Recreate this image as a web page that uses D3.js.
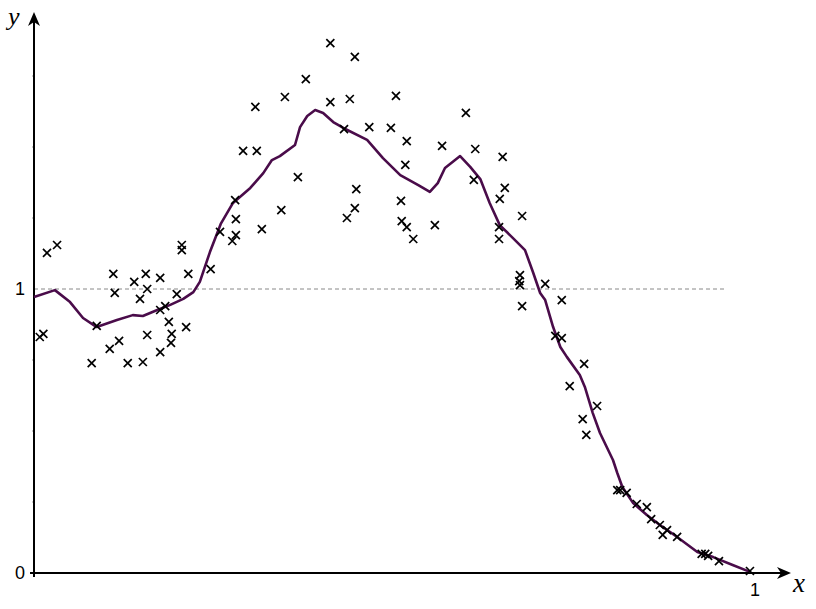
<!DOCTYPE html>
<html><head><meta charset="utf-8">
<script src="https://cdn.jsdelivr.net/npm/d3@7"></script>
<style>body{margin:0;background:#fff}svg{display:block}</style>
</head><body>
<script>
// Scatter observations (x, y)
const pointX = [0.008,0.013,0.018,0.032,0.080,0.087,0.105,0.118,0.110,0.112,0.130,0.151,0.139,0.147,0.157,0.155,0.157,0.175,0.175,0.175,0.182,0.187,0.191,0.190,0.198,0.205,0.205,0.211,0.214,0.245,0.258,0.275,0.279,0.280,0.280,0.290,0.309,0.307,0.316,0.343,0.348,0.366,0.377,0.411,0.411,0.430,0.434,0.438,0.445,0.445,0.447,0.465,0.495,0.502,0.509,0.510,0.515,0.517,0.517,0.526,0.556,0.566,0.599,0.610,0.612,0.645,0.645,0.646,0.650,0.653,0.677,0.674,0.673,0.674,0.709,0.732,0.677,0.723,0.732,0.763,0.743,0.781,0.761,0.766,0.809,0.813,0.822,0.836,0.850,0.856,0.868,0.878,0.872,0.892,0.926,0.931,0.935,0.950,0.993];
const pointY = [0.831,0.842,1.127,1.155,0.739,0.870,0.789,0.817,1.053,0.986,0.739,0.743,1.025,0.965,1.000,1.053,0.838,1.039,0.778,0.926,0.940,0.884,0.842,0.810,0.982,1.155,1.137,0.866,1.053,1.070,1.201,1.169,1.313,1.246,1.190,1.486,1.486,1.641,1.211,1.278,1.676,1.394,1.739,1.866,1.658,1.563,1.250,1.669,1.817,1.285,1.352,1.570,1.567,1.680,1.310,1.239,1.437,1.521,1.218,1.176,1.225,1.504,1.620,1.384,1.493,1.218,1.176,1.317,1.465,1.356,1.257,1.049,1.028,1.014,1.018,0.961,0.940,0.835,0.827,0.736,0.658,0.588,0.542,0.486,0.292,0.292,0.282,0.243,0.232,0.190,0.169,0.151,0.134,0.127,0.067,0.067,0.060,0.042,0.007];
// Fitted curve
const curveX = [0.000,0.029,0.050,0.068,0.087,0.115,0.137,0.151,0.171,0.189,0.207,0.221,0.230,0.244,0.259,0.276,0.300,0.318,0.330,0.341,0.362,0.369,0.379,0.390,0.401,0.415,0.429,0.462,0.484,0.508,0.533,0.549,0.560,0.570,0.591,0.605,0.619,0.632,0.646,0.664,0.681,0.692,0.702,0.709,0.720,0.730,0.739,0.757,0.764,0.775,0.785,0.803,0.809,0.816,0.831,0.850,0.868,0.892,0.920,0.942,0.969,0.993];
const curveY = [0.972,0.996,0.954,0.898,0.866,0.891,0.908,0.905,0.926,0.944,0.965,0.989,1.025,1.130,1.229,1.303,1.356,1.408,1.454,1.468,1.507,1.570,1.609,1.630,1.620,1.588,1.567,1.525,1.461,1.401,1.366,1.342,1.373,1.426,1.468,1.430,1.387,1.303,1.225,1.180,1.137,1.060,0.986,0.961,0.866,0.796,0.761,0.697,0.655,0.563,0.493,0.398,0.352,0.303,0.246,0.204,0.169,0.127,0.074,0.056,0.028,0.004];
const yTickLabels = ["0","1"];
const xTickLabels = ["1"];
const minorTicks = [0.25,0.5,0.75,1.25,1.5,1.75];

const W = 816, H = 609;
const svg = d3.select("body").append("svg").attr("width", W).attr("height", H);
const x = d3.scaleLinear().domain([0, 1]).range([34, 755]);
const y = d3.scaleLinear().domain([0, 1]).range([573, 289]);

// dashed reference line at y=1
svg.append("line").attr("x1", x(0)).attr("x2", 726).attr("y1", y(1)).attr("y2", y(1))
  .attr("stroke", "#888").attr("stroke-width", 1).attr("stroke-dasharray", "4,3");

// tiny minor tick dots on y axis
minorTicks.forEach(v => {
  svg.append("rect").attr("x", x(0) - 2).attr("y", Math.round(y(v)) - 0.5).attr("width", 1).attr("height", 1)
    .attr("fill", "#999");
});

// axes
svg.append("line").attr("x1", x(0)).attr("x2", 782).attr("y1", y(0)).attr("y2", y(0))
  .attr("stroke", "#000").attr("stroke-width", 2);
svg.append("line").attr("x1", x(0)).attr("x2", x(0)).attr("y1", y(0) + 4).attr("y2", 22)
  .attr("stroke", "#000").attr("stroke-width", 2);
svg.append("path").attr("d", `M${x(0)},12 L${x(0)-6},26 L${x(0)},22 L${x(0)+6},26 Z`).attr("fill", "#000");
svg.append("path").attr("d", `M791,${y(0)} L777,${y(0)-6} L781,${y(0)} L777,${y(0)+6} Z`).attr("fill", "#000");
// tick at 0 on y axis
svg.append("line").attr("x1", x(0) - 4).attr("x2", x(0)).attr("y1", y(0)).attr("y2", y(0))
  .attr("stroke", "#000").attr("stroke-width", 2);

// tick labels
const lab = svg.append("g").attr("font-family", "Liberation Sans, Arial, sans-serif").attr("font-size", 18).attr("fill", "#000");
yTickLabels.forEach(t => {
  lab.append("text").attr("x", 25).attr("y", y(+t)).attr("dy", "0.36em").attr("text-anchor", "end").text(t);
});
xTickLabels.forEach(t => {
  lab.append("text").attr("x", x(+t)).attr("y", 596).attr("text-anchor", "middle").text(t);
});

// axis names
svg.append("text").attr("x", 8).attr("y", 25).attr("font-family", "Liberation Serif, Times New Roman, serif")
  .attr("font-style", "italic").attr("font-size", 26).text("y");
svg.append("text").attr("x", 793).attr("y", 592).attr("font-family", "Liberation Serif, Times New Roman, serif")
  .attr("font-style", "italic").attr("font-size", 27).text("x");

// curve
const curveData = curveX.map((v, i) => [v, curveY[i]]);
svg.append("path").datum(curveData)
  .attr("d", d3.line().x(d => x(d[0])).y(d => y(d[1])).curve(d3.curveLinear))
  .attr("fill", "none").attr("stroke", "#4a0c4a").attr("stroke-width", 2.6).attr("stroke-linejoin", "round");

// scatter crosses
const pts = pointX.map((v, i) => [v, pointY[i]]);
const s = 4;
svg.append("g").selectAll("path").data(pts).join("path")
  .attr("d", d => { const cx = x(d[0]), cy = y(d[1]);
    return `M${cx-s},${cy-s}L${cx+s},${cy+s}M${cx-s},${cy+s}L${cx+s},${cy-s}`; })
  .attr("stroke", "#000").attr("stroke-width", 1.7).attr("fill", "none");
</script>
</body></html>
